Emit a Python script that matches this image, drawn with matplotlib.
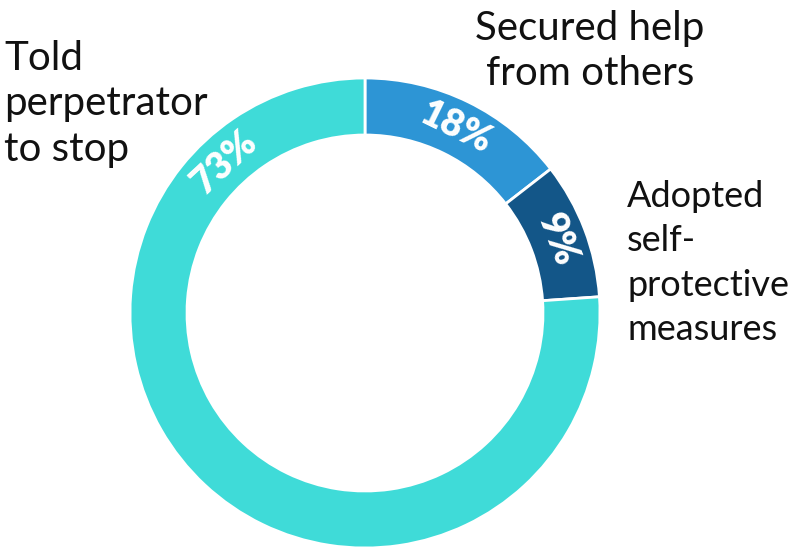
import numpy as np
import matplotlib.pyplot as plt

plt.rcParams['font.family'] = ['Lato', 'DejaVu Sans']

# 各スライス（時計回り、上から）
categories = ['Secured help\nfrom others', 'Adopted\nself-\nprotective\nmeasures', 'Told\nperpetrator\nto stop']
shares = [14.5, 9.4, 76.1]          # 画像上のくさびの大きさ
pct_labels = ['18%', '9%', '73%']
colors = ['#2D95D5', '#135688', '#3FDBD8']

fig = plt.figure(figsize=(7.99, 5.5), dpi=100)
ax = fig.add_axes([130 / 799, 2 / 550, 470 / 799, 470 / 550])

ring = 57 / 235
wedges, _ = ax.pie(shares, colors=colors, startangle=90, counterclock=False,
                   radius=1, wedgeprops=dict(width=ring, edgecolor='white', linewidth=2))
ax.set_xlim(-1, 1)
ax.set_ylim(-1, 1)
ax.set_aspect('equal')
ax.axis('off')

# パーセント表示（リングに沿って回転）
r_mid = 1 - ring / 2
for i, (w, lab) in enumerate(zip(wedges, pct_labels)):
    if i == 2:
        ang = 133.0  # 73% は左上に表示
    else:
        ang = (w.theta1 + w.theta2) / 2
    t = np.deg2rad(ang)
    ax.text(r_mid * np.cos(t), r_mid * np.sin(t), lab, rotation=ang - 90,
            ha='center', va='center', rotation_mode='anchor',
            color='white', fontsize=27, fontweight='heavy')

# カテゴリ名
kw = dict(color='#111111', fontweight='normal')
fig.text(590 / 799, 1 - 10 / 550, categories[0], ha='center', va='top',
         fontsize=29, linespacing=1.28, **kw)
fig.text(627 / 799, 1 - 180 / 550, categories[1], ha='left', va='top',
         fontsize=26, linespacing=1.42, **kw)
fig.text(4 / 799, 1 - 40 / 550, categories[2], ha='left', va='top',
         fontsize=29, linespacing=1.28, **kw)

fig.savefig('out.png', dpi=100)
